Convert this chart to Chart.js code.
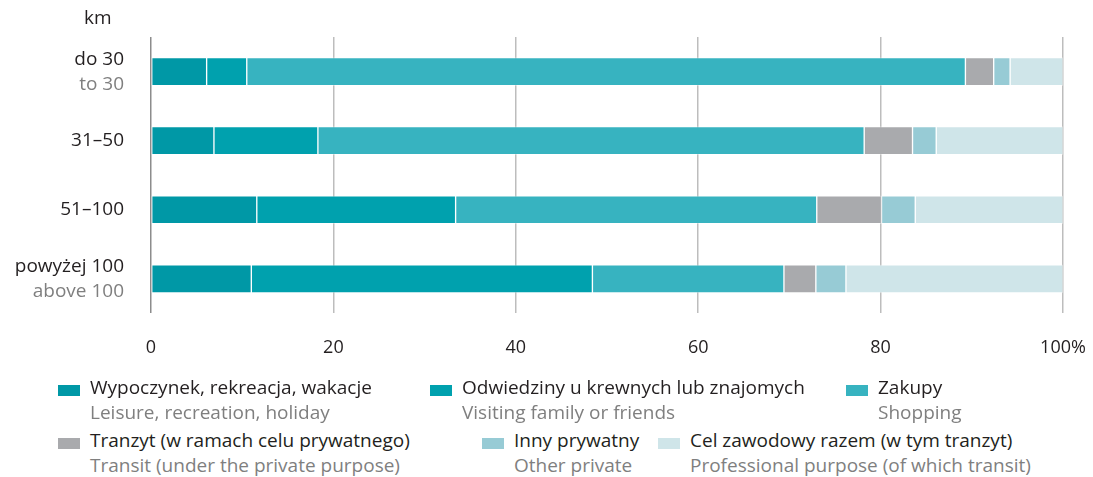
<!DOCTYPE html>
<html>
<head>
<meta charset="utf-8">
<script src="https://cdn.jsdelivr.net/npm/chart.js@4/dist/chart.umd.min.js"></script>
<style>
    body { margin: 0; background: #fff; font-family: 'Open Sans', sans-serif; }
    #wrap { position: relative; width: 1093px; height: 477px; }
    #chartBox { position: absolute; left: 0; top: 0; width: 1093px; height: 383px; }
    .unit { position: absolute; left: 84px; top: 4px; font-size: 19px; color: #231f20; }
    .lg { position: absolute; font-size: 19px; line-height: 25px; color: #231f20; white-space: nowrap; }
    .lg .sw { position: absolute; left: -32px; top: 10px; width: 22px; height: 11px; }
    .lg .en { color: #7f7f7f; }
</style>
</head>
<body>
<div id="wrap">
    <div id="chartBox"><canvas id="trendChart"></canvas></div>
    <div class="unit">km</div>
    <div id="legend"></div>
</div>
<script>
const categories = ['do 30', '31–50', '51–100', 'powyżej 100'];
const categoriesEn = ['to 30', '', '', 'above 100'];
const xTicks = [0, 20, 40, 60, 80, 100];

const wypoczynek   = [6.1, 6.9, 11.6, 11.0];
const odwiedziny   = [4.4, 11.4, 21.8, 37.4];
const zakupy       = [78.8, 59.9, 39.6, 21.0];
const tranzyt      = [3.1, 5.3, 7.1, 3.5];
const innyPrywatny = [1.8, 2.6, 3.7, 3.3];
const celZawodowy  = [5.8, 13.9, 16.2, 23.8];

const seriesPl = [
    'Wypoczynek, rekreacja, wakacje',
    'Odwiedziny u krewnych lub znajomych',
    'Zakupy',
    'Tranzyt (w ramach celu prywatnego)',
    'Inny prywatny',
    'Cel zawodowy razem (w tym tranzyt)'
];
const seriesEn = [
    'Leisure, recreation, holiday',
    'Visiting family or friends',
    'Shopping',
    'Transit (under the private purpose)',
    'Other private',
    'Professional purpose (of which transit)'
];

const colors = ['#0098a6', '#00a1ae', '#37b3c0', '#a9aaad', '#97cbd5', '#cfe5e9'];
const seriesData = [wypoczynek, odwiedziny, zakupy, tranzyt, innyPrywatny, celZawodowy];

// legend slots (left of text, top of first line)
const legendPos = [
    [90, 375], [462, 375], [878, 375],
    [90, 428], [514, 428], [690, 428]
];

const yLabelPlugin = {
    id: 'yLabels',
    afterDraw(chart) {
        const { ctx, scales: { y } } = chart;
        ctx.save();
        ctx.font = '19px "Open Sans"';
        ctx.textAlign = 'right';
        ctx.textBaseline = 'middle';
        categories.forEach((cat, i) => {
            const yc = y.getPixelForTick(i);
            const en = categoriesEn[i];
            if (en) {
                ctx.fillStyle = '#231f20';
                ctx.fillText(cat, 124, yc - 12);
                ctx.fillStyle = '#7f7f7f';
                ctx.fillText(en, 124, yc + 13);
            } else {
                ctx.fillStyle = '#231f20';
                ctx.fillText(cat, 124, yc);
            }
        });
        ctx.restore();
    }
};

const chart = new Chart(document.getElementById('trendChart').getContext('2d'), {
    type: 'bar',
    data: {
        labels: categories,
        datasets: seriesData.map((d, i) => ({
            label: seriesPl[i],
            data: d,
            backgroundColor: colors[i],
            borderColor: 'rgba(255,255,255,0.35)',
            borderWidth: 1,
            borderSkipped: false,
            barThickness: 28
        }))
    },
    options: {
        indexAxis: 'y',
        responsive: true,
        maintainAspectRatio: false,
        animation: false,
        layout: { padding: { top: 37, right: 0, bottom: 0, left: 0 } },
        plugins: {
            legend: { display: false },
            tooltip: { enabled: false }
        },
        scales: {
            x: {
                stacked: true,
                min: 0,
                max: 100,
                afterBuildTicks: (scale) => { scale.ticks = xTicks.map(v => ({ value: v })); },
                afterFit: (scale) => { scale.paddingRight = 30; scale.paddingLeft = 0; },
                ticks: {
                    padding: 24,
                    color: '#231f20',
                    font: { family: 'Open Sans', size: 18 },
                    callback: (v) => v === 100 ? '100%' : v
                },
                grid: {
                    drawTicks: false,
                    lineWidth: 1.5,
                    color: (c) => c.index === 0 ? '#8c8c8c' : '#bdbdbd'
                },
                border: { display: false }
            },
            y: {
                stacked: true,
                afterFit: (scale) => { scale.width = 151; },
                ticks: { display: false },
                grid: { display: false },
                border: { display: false }
            }
        }
    },
    plugins: [yLabelPlugin]
});

const legend = document.getElementById('legend');
seriesPl.forEach((name, i) => {
    const el = document.createElement('div');
    el.className = 'lg';
    el.style.left = legendPos[i][0] + 'px';
    el.style.top = legendPos[i][1] + 'px';
    el.innerHTML = '<span class="sw" style="background:' + colors[i] + '"></span>' +
        '<div>' + name + '</div><div class="en">' + seriesEn[i] + '</div>';
    legend.appendChild(el);
});
</script>
</body>
</html>
